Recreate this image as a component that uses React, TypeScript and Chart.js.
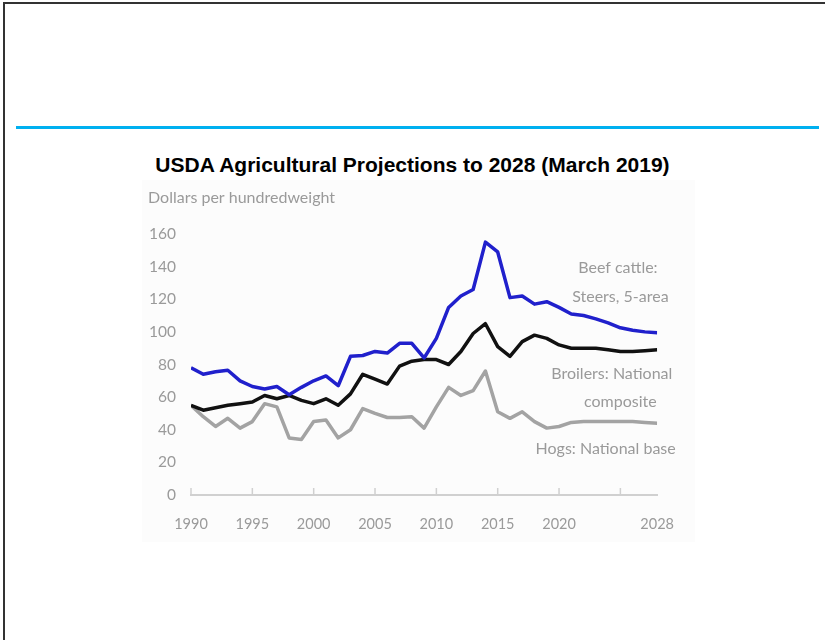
import React, { useEffect, useRef } from 'react';
import { Chart, registerables } from 'chart.js';

Chart.register(...registerables);

const pageTitle = 'USDA Agricultural Projections to 2028 (March 2019)';
const unitLabel = 'Dollars per hundredweight';

const years = [
  1990, 1991, 1992, 1993, 1994, 1995, 1996, 1997, 1998, 1999,
  2000, 2001, 2002, 2003, 2004, 2005, 2006, 2007, 2008, 2009,
  2010, 2011, 2012, 2013, 2014, 2015, 2016, 2017, 2018, 2019,
  2020, 2021, 2022, 2023, 2024, 2025, 2026, 2027, 2028,
];

const beefCattle = [
  78, 74, 75.5, 76.5, 70, 66.5, 65, 66.5, 61.5, 66,
  70, 73, 67, 85, 85.5, 88, 87, 93, 93, 84,
  96, 115, 122, 126, 155, 149, 121, 122, 117, 118.5,
  115, 111, 110, 108, 105.5, 102.5, 101, 100, 99.5,
];

const broilers = [
  55, 52, 53.5, 55, 56, 57, 61, 59, 61, 58,
  56, 59, 55, 62, 74, 71, 68, 79, 82, 83,
  83, 80, 88, 99, 105, 91, 85, 94, 98, 96,
  92, 90, 90, 90, 89, 88, 88, 88.5, 89,
];

const hogs = [
  55, 48, 42, 47, 41, 45, 56, 54, 35, 34,
  45, 46, 35, 40, 53, 50, 47.5, 47.5, 48, 41,
  54, 66, 61, 64, 76, 51, 47, 51, 45, 41,
  42, 44.5, 45, 45, 45, 45, 45, 44.5, 44,
];

const xTickValues = [1990, 1995, 2000, 2005, 2010, 2015, 2020, 2025, 2028];
const xTickLabels = ['1990', '1995', '2000', '2005', '2010', '2015', '2020', '', '2028'];
const yMin = 0;
const yMax = 160;
const yStep = 20;

const seriesNames = [
  ['Beef cattle:', 'Steers, 5-area'],
  ['Broilers: National', 'composite'],
  ['Hogs: National base'],
];
// label anchors in data units (year, value) for each line of each series name
const nameAnchors = [
  [[2024.8, 139], [2025.0, 121.5]],
  [[2024.3, 74], [2025.0, 57]],
  [[2023.8, 28.2]],
];

const BLUE = '#2020cc';
const BLACK = '#111111';
const GRAY = '#a3a3a3';
const TEXT_GRAY = '#9a9a9a';
const FONT = 'Lato, "Open Sans", sans-serif';

const annotationPlugin = {
  id: 'annotations',
  afterDraw(chart: any) {
    const { ctx, scales } = chart;
    const xs = scales.x;
    const ys = scales.y;
    ctx.save();
    // upward tick marks on the x axis
    ctx.strokeStyle = '#d0d0d0';
    ctx.lineWidth = 1.5;
    const y0 = ys.getPixelForValue(yMin);
    xTickValues.forEach((v) => {
      if (v === xTickValues[xTickValues.length - 1]) return;
      const px = xs.getPixelForValue(v);
      ctx.beginPath();
      ctx.moveTo(px, y0);
      ctx.lineTo(px, y0 - 7);
      ctx.stroke();
    });
    ctx.fillStyle = TEXT_GRAY;
    ctx.font = `16px ${FONT}`;
    ctx.textBaseline = 'middle';
    // unit label above the y axis
    ctx.textAlign = 'left';
    ctx.fillText(unitLabel, ys.left + 6, chart.chartArea.top - 36);
    // series names
    ctx.textAlign = 'center';
    seriesNames.forEach((lines, i) => {
      lines.forEach((line, j) => {
        const [ax, ay] = nameAnchors[i][j];
        ctx.fillText(line, xs.getPixelForValue(ax), ys.getPixelForValue(ay));
      });
    });
    ctx.restore();
  },
};

export default function App() {
  const canvasRef = useRef<HTMLCanvasElement | null>(null);

  useEffect(() => {
    document.body.style.margin = '0';
    const canvas = canvasRef.current;
    if (!canvas) return;
    const toPoints = (vals: number[]) => years.map((yr, i) => ({ x: yr, y: vals[i] }));
    const chart = new Chart(canvas, {
      type: 'line',
      data: {
        datasets: [
          {
            label: 'Beef cattle: Steers, 5-area',
            data: toPoints(beefCattle),
            borderColor: BLUE,
            borderWidth: 3.5,
            pointRadius: 0,
            tension: 0,
            borderJoinStyle: 'round',
          },
          {
            label: 'Broilers: National composite',
            data: toPoints(broilers),
            borderColor: BLACK,
            borderWidth: 3.5,
            pointRadius: 0,
            tension: 0,
            borderJoinStyle: 'round',
          },
          {
            label: 'Hogs: National base',
            data: toPoints(hogs),
            borderColor: GRAY,
            borderWidth: 3.5,
            pointRadius: 0,
            tension: 0,
            borderJoinStyle: 'round',
          },
        ],
      },
      options: {
        animation: false,
        responsive: false,
        maintainAspectRatio: false,
        layout: { padding: { left: 0, right: 28, top: 54, bottom: 0 } },
        plugins: {
          legend: { display: false },
          tooltip: { enabled: false },
          title: { display: false },
        },
        scales: {
          x: {
            type: 'linear',
            min: xTickValues[0],
            max: xTickValues[xTickValues.length - 1],
            afterBuildTicks: (scale: any) => {
              scale.ticks = xTickValues.map((v) => ({ value: v }));
            },
            afterFit: (scale: any) => {
              scale.height = 47;
            },
            ticks: {
              autoSkip: false,
              maxRotation: 0,
              color: TEXT_GRAY,
              font: { family: FONT, size: 14.5 },
              padding: 21,
              callback: (v: any) => {
                const idx = xTickValues.indexOf(Number(v));
                return idx >= 0 ? xTickLabels[idx] : '';
              },
            },
            grid: { display: false, drawTicks: false },
            border: { display: true, color: '#d0d0d0', width: 2 },
          },
          y: {
            type: 'linear',
            min: yMin,
            max: yMax,
            afterFit: (scale: any) => {
              scale.width = 49;
            },
            ticks: {
              stepSize: yStep,
              color: TEXT_GRAY,
              font: { family: FONT, size: 15.5 },
              padding: 15,
            },
            grid: { display: false, drawTicks: false },
            border: { display: false },
          },
        },
      },
      plugins: [annotationPlugin],
    } as any);
    return () => chart.destroy();
  }, []);

  return (
    <div style={{ position: 'relative', width: 825, height: 640, overflow: 'hidden', background: '#fff' }}>
      <div
        style={{
          position: 'absolute',
          left: 3,
          top: 2,
          width: 1200,
          height: 900,
          borderLeft: '2px solid #333',
          borderTop: '2px solid #333',
          boxSizing: 'border-box',
        }}
      />
      <div
        style={{
          position: 'absolute',
          left: 16,
          top: 126,
          width: 803,
          height: 3,
          background: '#00b0f0',
        }}
      />
      <div
        style={{
          position: 'absolute',
          left: 0,
          top: 152,
          width: 825,
          textAlign: 'center',
          fontFamily: '"Liberation Sans", Arial, sans-serif',
          fontWeight: 'bold',
          fontSize: 21,
          lineHeight: '26px',
          color: '#000',
        }}
      >
        {pageTitle}
      </div>
      <canvas
        ref={canvasRef}
        width={553}
        height={362}
        style={{ position: 'absolute', left: 142, top: 180, width: 553, height: 362, background: '#fcfcfc' }}
      />
    </div>
  );
}
